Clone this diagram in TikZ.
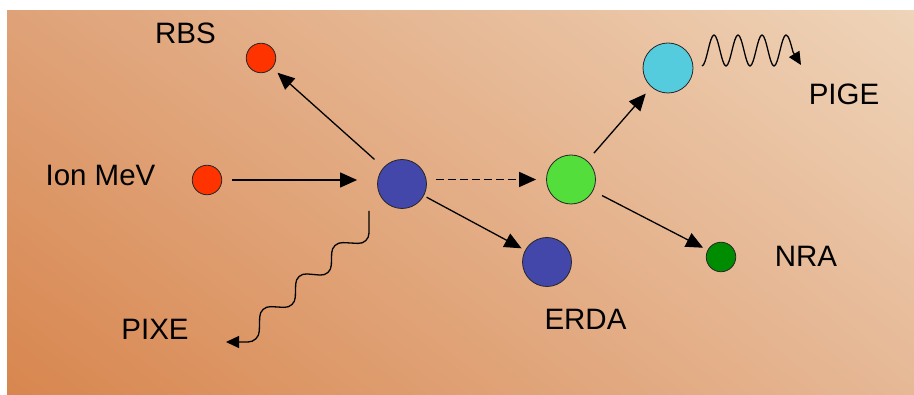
\documentclass[tikz,border=0pt]{standalone}
\usepackage{fontspec}
\setmainfont{Liberation Sans}
\usetikzlibrary{arrows.meta,shadings}
\definecolor{redball}{RGB}{255,51,0}
\definecolor{blueball}{RGB}{68,71,170}
\definecolor{greenball}{RGB}{84,222,60}
\definecolor{cyanball}{RGB}{85,204,221}
\definecolor{dgreenball}{RGB}{0,140,0}
\definecolor{bgll}{RGB}{216,134,78}
\definecolor{bgul}{RGB}{223,162,120}
\definecolor{bglr}{RGB}{230,184,150}
\definecolor{bgur}{RGB}{239,212,185}
\begin{document}
\begin{tikzpicture}[x=1pt,y=-1pt,
  ball/.style={circle,draw=black!85,line width=0.8pt,inner sep=0pt},
  lbl/.style={font=\fontsize{29.5}{30}\selectfont, inner sep=0pt, text=black},
  arr/.style={line width=1.3pt, -{Triangle[length=17pt,width=15pt]}},
  wavearr/.style={line width=1.3pt, -{Triangle[length=13pt,width=12pt]}},
]
\useasboundingbox (0,0) rectangle (914,395);
\fill[white] (0,0) rectangle (914,395);
\shade[lower left=bgll, lower right=bglr, upper left=bgul, upper right=bgur] (7,11) rectangle (914,395);

% balls
\node[ball, fill=redball, minimum size=29.5pt] (rbs) at (261,58) {};
\node[ball, fill=redball, minimum size=29.5pt] (ion) at (207,180) {};
\node[ball, fill=blueball, minimum size=49pt] (blue) at (402,184) {};
\node[ball, fill=greenball, minimum size=49pt] (green) at (571,179.5) {};
\node[ball, fill=blueball, minimum size=49pt] (erda) at (547,262) {};
\node[ball, fill=cyanball, minimum size=50pt] (cyan) at (668,68) {};
\node[ball, fill=dgreenball, minimum size=29.5pt] (nra) at (721,257) {};

% labels
\node[lbl] (trbs) at (185.5,33) {RBS};
\node[lbl] (tion) at (100.5,175) {Ion MeV};
\node[lbl] (tpige) at (844,94) {PIGE};
\node[lbl] (tnra) at (806,256) {NRA};
\node[lbl] (terda) at (585.5,319) {ERDA};
\node[lbl] (tpixe) at (155,329) {PIXE};

% connectors
\draw[arr, shorten <=10pt, shorten >=20pt] (ion.east) -- (ion.east -| blue.west);
\draw[arr, line width=1.7pt, dash pattern=on 8pt off 4pt, shorten <=9pt, shorten >=10pt] (green.west -| blue.east) -- (green.west);
\draw[arr, shorten <=12pt, shorten >=7pt] (blue) -- (rbs);
\draw[arr, shorten <=3pt, shorten >=4pt] (blue) -- (erda);
\draw[arr, shorten <=10pt, shorten >=8.5pt] (green) -- (cyan);
\draw[arr, shorten <=10pt, shorten >=5pt] (green) -- (nra);

% PIXE wave
\coordinate (pixs) at (369,211);
\coordinate (pixe) at (226,342);
\draw[wavearr, rounded corners=11pt] (pixs) -- (369,244) -- (332,242) -- (331,276) -- (296,273) -- (295,308) -- (260,306) -- (259,342) -- (pixe);

% PIGE wave
\coordinate (pigs) at (702,66);
\coordinate (pige) at (801,65);
\draw[wavearr] (pigs) cos (708,50.5) sin (714,35) cos (720,50.5) sin (726,66)
  cos (732,50.5) sin (738,35) cos (744,50.5) sin (750,66)
  cos (756,50.5) sin (762,35) cos (768,50.5) sin (774,66)
  cos (780,50.5) sin (786,35) cos (793,52) -- (pige);
\end{tikzpicture}
\end{document}
